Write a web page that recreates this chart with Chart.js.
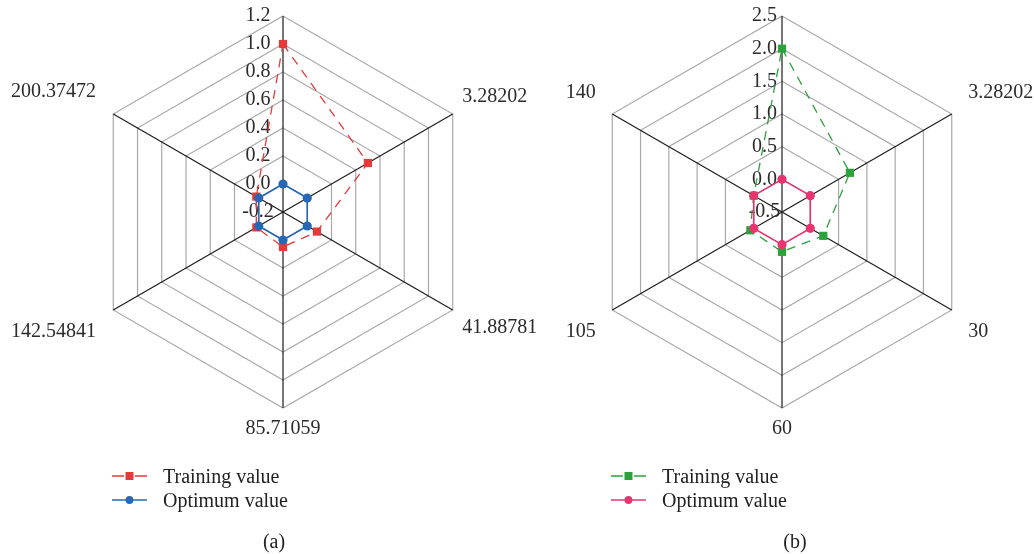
<!DOCTYPE html>
<html>
<head>
<meta charset="utf-8">
<script src="https://cdn.jsdelivr.net/npm/chart.js@4/dist/chart.umd.min.js"></script>
<style>
  html, body { margin: 0; padding: 0; width: 1034px; height: 554px; overflow: hidden; background: #fff; }
  body { position: relative; font-family: "Liberation Serif", "Times New Roman", serif; color: #222; }
  canvas.radar { position: absolute; top: -11px; }
  #radarA { left: -17px; }
  #radarB { left: 482px; }
  .legend { position: absolute; font-size: 20px; line-height: 24px; }
  .legend .row { display: flex; align-items: center; height: 24px; white-space: nowrap; }
  .legend canvas { margin-right: 16px; }
  .cap { position: absolute; top: 529px; width: 60px; text-align: center; font-size: 20px; line-height: 24px; }
</style>
</head>
<body>
<canvas id="radarA" class="radar" width="600" height="457"></canvas>
<canvas id="radarB" class="radar" width="600" height="457"></canvas>
<div id="legendA" class="legend" style="left:112px; top:464px;"></div>
<div id="legendB" class="legend" style="left:611px; top:464px;"></div>
<div class="cap" style="left:244px;">(a)</div>
<div class="cap" style="left:765px;">(b)</div>
<script>
// Panel (a): axis labels clockwise from the top axis, series values, ring labels
const axesA = ['', '3.28202', '41.88781', '85.71059', '142.54841', '200.37472'];
const trainingA = [1.0, 0.5, 0.08, 0.05, 0.02, 0.02];
const optimumA = [0.0, 0.0, 0.0, 0.0, 0.0, 0.0];
const tickLabelsA = ['-0.2', '0.0', '0.2', '0.4', '0.6', '0.8', '1.0', '1.2'];

// Panel (b)
const axesB = ['', '3.28202', '30', '60', '105', '140'];
const trainingB = [2.0, 0.7, 0.23, 0.11, 0.06, 0.0];
const optimumB = [0.0, 0.0, 0.0, 0.0, 0.0, 0.0];
const tickLabelsB = ['-0.5', '0.0', '0.5', '1.0', '1.5', '2.0', '2.5'];

const seriesNames = ['Training value', 'Optimum value'];
const FONT = '"Liberation Serif", "Times New Roman", serif';

function buildConfig(axes, training, optimum, tickLabels, colors, labelPad, tickShift) {
  const min = Number(tickLabels[0]);
  const max = Number(tickLabels[tickLabels.length - 1]);
  const step = Number(tickLabels[1]) - min;
  // trailing spaces push the centred ring labels to the left of the vertical axis
  const trail = ' '.repeat(tickShift);
  return {
    type: 'radar',
    data: {
      labels: axes,
      datasets: [
        {
          label: seriesNames[0],
          data: training,
          order: 2,
          borderColor: colors[0],
          backgroundColor: colors[0],
          borderWidth: 1.3,
          borderDash: [9, 7],
          fill: false,
          pointStyle: 'rect',
          pointRadius: 5.8,
          pointBorderWidth: 0,
          pointBackgroundColor: colors[0]
        },
        {
          label: seriesNames[1],
          data: optimum,
          order: 1,
          borderColor: colors[1],
          backgroundColor: colors[1],
          borderWidth: 1.6,
          fill: false,
          pointStyle: 'circle',
          pointRadius: 4.6,
          pointBorderWidth: 0,
          pointBackgroundColor: colors[1]
        }
      ]
    },
    options: {
      responsive: false,
      animation: false,
      events: [],
      plugins: { legend: { display: false }, tooltip: { enabled: false } },
      scales: {
        r: {
          min: min,
          max: max,
          grid: { color: '#a9a9a9', lineWidth: 1.2 },
          angleLines: { color: '#1c1c1c', lineWidth: 1.2 },
          ticks: {
            stepSize: step,
            color: '#2b2b2b',
            font: { family: FONT, size: 20 },
            backdropPadding: 0,
            showLabelBackdrop: false,
            callback: (v, i) => tickLabels[i] + trail
          },
          pointLabels: {
            color: '#2b2b2b',
            font: { family: FONT, size: 20 },
            padding: (ctx) => labelPad[ctx.index]
          }
        }
      }
    }
  };
}

// Legend rows: line + marker symbol followed by the series name
function buildLegend(chart, el) {
  chart.data.datasets.forEach((ds) => {
    const row = document.createElement('div');
    row.className = 'row';
    const sym = document.createElement('canvas');
    sym.width = 35; sym.height = 14;
    const c = sym.getContext('2d');
    c.strokeStyle = ds.borderColor;
    c.fillStyle = ds.pointBackgroundColor;
    c.lineWidth = 1.4;
    c.beginPath();
    if (ds.borderDash) {
      c.moveTo(0, 7); c.lineTo(12, 7);
      c.moveTo(23, 7); c.lineTo(35, 7);
    } else {
      c.moveTo(0, 7); c.lineTo(35, 7);
    }
    c.stroke();
    c.beginPath();
    if (ds.pointStyle === 'rect') {
      c.rect(13.5, 3, 8, 8);
    } else {
      c.arc(17.5, 7, 3.9, 0, Math.PI * 2);
    }
    c.fill();
    row.appendChild(sym);
    const t = document.createElement('span');
    t.textContent = ds.label;
    row.appendChild(t);
    el.appendChild(row);
  });
}

const chartA = new Chart(document.getElementById('radarA'),
  buildConfig(axesA, trainingA, optimumA, tickLabelsA, ['#e63a3a', '#2668b5'], [-12, 1, 1, -1, 10, 10], 10));
const chartB = new Chart(document.getElementById('radarB'),
  buildConfig(axesB, trainingB, optimumB, tickLabelsB, ['#2ca23c', '#e83470'], [-12, 9, 9, -1, 9, 9], 7));

buildLegend(chartA, document.getElementById('legendA'));
buildLegend(chartB, document.getElementById('legendB'));
</script>
</body>
</html>
